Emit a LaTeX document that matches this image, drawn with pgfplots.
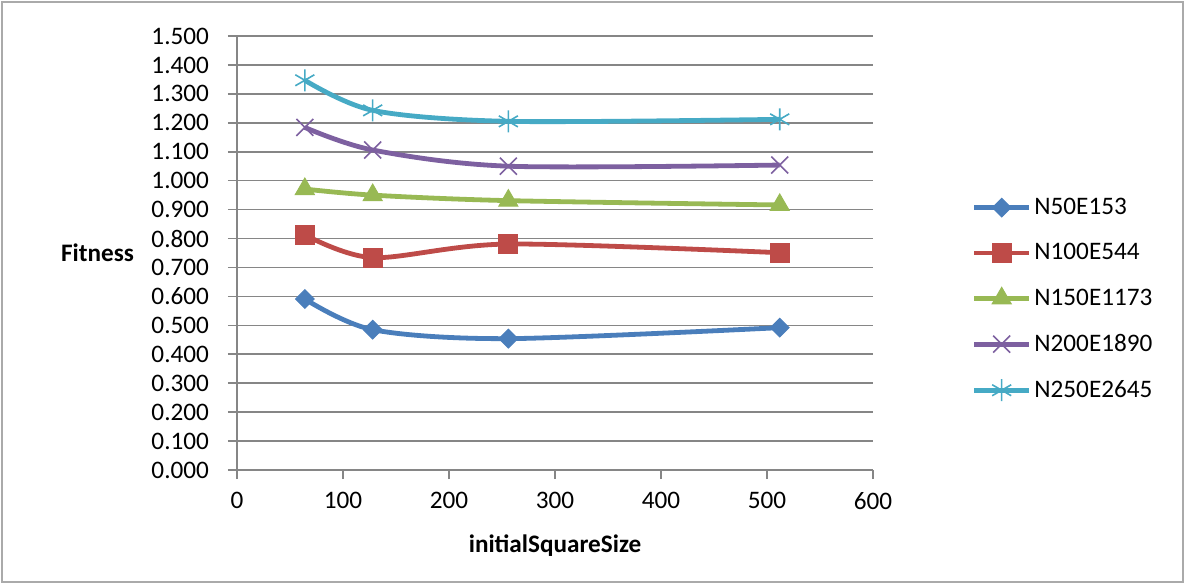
\documentclass[border=0pt]{standalone}
\usepackage{pgfplots}
\pgfplotsset{compat=1.18}
\usepackage{fontspec}
\setmainfont{Carlito}
\definecolor{cblue}{HTML}{4A7EBB}
\definecolor{cred}{HTML}{BE4B48}
\definecolor{cgreen}{HTML}{98B954}
\definecolor{cpurple}{HTML}{7D60A0}
\definecolor{cteal}{HTML}{46AAC5}
\definecolor{gridc}{HTML}{868686}
\begin{document}
\begin{tikzpicture}
\useasboundingbox (-118.5pt,-57pt) rectangle (474pt,235pt);
\draw[gridc!70, line width=0.8pt] (-117.5pt,-56pt) rectangle (473pt,234pt);
\begin{axis}[
  at={(0,0)}, anchor=origin,
  scale only axis,
  width=318pt, height=217pt,
  xmin=0, xmax=600, ymin=0, ymax=1.5,
  xtick={0,100,...,600},
  ytick={0,0.1,...,1.5},
  axis lines=left,
  axis line style={-, gridc, line width=0.8pt},
  ymajorgrids,
  grid style={gridc, line width=0.8pt},
  tick style={gridc, line width=0.8pt},
  major tick length=4.5pt,
  tick align=outside,
  xtick pos=bottom, ytick pos=left,
  /pgf/number format/assume math mode=true,
  yticklabel style={/pgf/number format/fixed, /pgf/number format/fixed zerofill, /pgf/number format/precision=3, xshift=-6pt},
  xticklabel style={/pgf/number format/fixed, yshift=-3pt},
  ticklabel style={font=\fontsize{12.6}{14}\selectfont},
  xlabel={\textbf{initialSquareSize}},
  ylabel={\textbf{Fitness}},
  every axis x label/.style={at={(axis description cs:0.5,0)}, anchor=center, yshift=-38pt, font=\fontsize{12.6}{14}\selectfont},
  every axis y label/.style={at={(axis description cs:0,0.5)}, anchor=east, xshift=-48pt, font=\fontsize{12.6}{14}\selectfont},
  legend style={at={(rel axis cs:1.155,0.637)}, anchor=north west, draw=none, fill=none,
    font=\fontsize{12.6}{14}\selectfont, row sep=9pt, inner sep=0pt,
    nodes={inner xsep=1.5pt},
    legend cell align=left},
  legend image code/.code={\draw[mark repeat=2,mark phase=2] plot coordinates {(0cm,0cm)(0.48cm,0cm)(0.96cm,0cm)};},
  clip=false,
]
\addplot[cblue, line width=2.4pt, smooth, mark=square*, mark size=3.3pt, mark options={solid, line width=0.5pt, rotate=45}]
  coordinates {(64,0.591) (128,0.485) (256,0.454) (512,0.492)};
\addlegendentry{N50E153}
\addplot[cred, line width=2.4pt, smooth, mark=square*, mark size=4.7pt, mark options={solid, line width=0.5pt}]
  coordinates {(64,0.813) (128,0.734) (256,0.781) (512,0.751)};
\addlegendentry{N100E544}
\addplot[cgreen, line width=2.4pt, smooth, mark=triangle*, mark size=5.5pt, mark options={solid, line width=0.5pt}]
  coordinates {(64,0.971) (128,0.950) (256,0.931) (512,0.916)};
\addlegendentry{N150E1173}
\addplot[cpurple, line width=2.4pt, smooth, mark=x, mark size=6pt, mark options={solid, line width=0.8pt}]
  coordinates {(64,1.184) (128,1.106) (256,1.050) (512,1.054)};
\addlegendentry{N200E1890}
\addplot[cteal, line width=2.4pt, smooth, mark=asterisk, mark size=5.5pt, mark options={solid, line width=0.8pt}]
  coordinates {(64,1.347) (128,1.243) (256,1.205) (512,1.212)};
\addlegendentry{N250E2645}
\end{axis}
\end{tikzpicture}
\end{document}
